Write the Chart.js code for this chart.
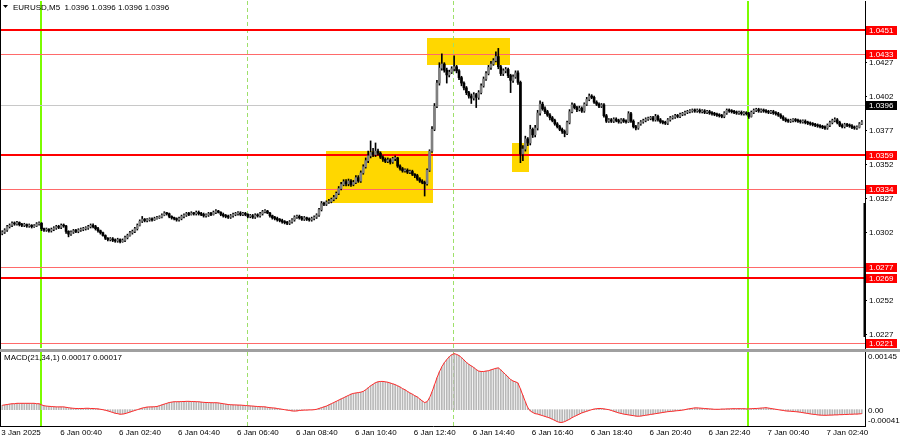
<!DOCTYPE html>
<html><head><meta charset="utf-8">
<script src="https://cdn.jsdelivr.net/npm/chart.js@4.4.1/dist/chart.umd.min.js"></script>
<style>
html,body{margin:0;padding:0;background:#fff;}
#wrap{position:relative;width:900px;height:441px;overflow:hidden;background:#fff;}
#c1{position:absolute;left:0;top:0;}
#c2{position:absolute;left:0;top:352px;}
#sep{position:absolute;left:0;top:349px;width:900px;height:3px;background:#a0a0a0;}
</style></head><body>
<div id="wrap"><canvas id="c1" width="900" height="349"></canvas><div id="sep"></div><canvas id="c2" width="900" height="89"></canvas></div>
<script>
// ---------- DATA (prices in pips above 1.0000, i.e. 302.5 = 1.03025) ----------
const titleText = 'EURUSD,M5  1.0396 1.0396 1.0396 1.0396';
const macdTitle = 'MACD(21,34,1) 0.00017 0.00017';
const firstOpen = 301.5;
const closes = [302.5,304,306.5,307.5,309,308.5,309.5,308,307.5,308,
307,307.5,306.5,307,308.5,309,305,304,304.5,303.5,
304.5,305.5,306.5,306,307.5,307,303,301,302.5,303.5,
303,304,304.5,305,305.5,306.5,307.5,306.5,305,303.5,
302,300,298,297,297.5,296.5,296,297,295.5,296.5,
298.5,300,302,303,305,307.5,310.5,312,311,311.5,
312,311.5,312.5,313,313.5,315,316.5,316,314,313,
312.5,311.5,312.5,314,315,316,315.5,316.5,316,317,
316,315.5,314.5,315,316,315.5,317,318,317,315.5,
314.5,314,313.5,314.5,315.5,316,316.5,315.5,316,315.5,
314,314.5,313.5,315,314.5,316,317.5,318,316.5,314.5,
313,312.5,311.5,311,310,309.5,309,310,311.5,313.5,
314,313,312,313,312,311.5,312.5,313.5,315,319,
323.5,323,324.5,325,326.5,328,331,334.5,337.5,339.5,
338,340,337.5,339,342.5,340,346,350.5,355,358.5,
361,359.5,362,360.5,357.5,356,354.5,355.5,354,356.5,
357,351,349,347.5,348,346.5,347,345,344,341.5,
340,339,338,348,362,378,395,412,423,426,
421.5,418,420,422.5,424,421,416,412,408.5,405,
402.5,401,403.5,401.5,405,410,415,419,423.5,426,
428.5,431.5,424,419,421,422,417.5,414,416.5,419.5,
412.5,360,363.5,371,368,378,374,379,390,396.5,
393,391,388.5,386.5,384.5,382,380,378,376.5,375,
383,391,396,394,392.5,393.5,391.5,396.5,400,402.5,
401.5,398,396.5,395,396,388,384,385,384,385.5,
384.5,383.5,385,384,383.5,389.5,384,380,379,382,
383.5,384.5,385.5,386,386.5,385,387.5,385,383.5,383,
382.5,385,386.5,387,388,387.5,389,389.5,390.5,391,
391.5,392,391.5,392,391,391.5,390.5,391,390,389.5,
389,388.5,388,387.5,390,392,391.5,391,390.5,390,
390.5,389.5,390,389.5,387.5,390.5,392,392.5,391.5,392,
391.5,391,390.5,391,390,389.5,388.5,387,385.5,384.5,
384,384.5,385,384.5,384,383.5,384,383,382.5,382,
381.5,381,380.5,380,379.5,379,381,383,384.5,385,
383,381,380,381.5,381,380.5,379.5,379,379.5,382,383.5];
const highs = [303.5,305,307.5,308.5,310,310,310.5,310,309,309,
308.5,308.5,308,308,309.5,310,309.5,305.5,305.5,305,
305.5,306.5,307.5,307.5,308.5,308.5,307.5,303.5,303.5,304.5,
304.5,305,305.5,306,306.5,307.5,308.5,308.5,307.5,306,
304,302.5,300.5,298.5,298.5,298.5,297.5,298,297.5,297.5,
299.5,301,303,304,306,308.5,311.5,314,312.5,312.5,
313,313,313.5,314,314.5,316,317.5,317,316.5,314.5,
313.5,313,313.5,315,316,317,317,317.5,317,318,
318,317,316.5,316,317,317,318,319,318.5,317.5,
316.5,315.5,315,315.5,316.5,317,317.5,317.5,317,317,
316,315.5,315.5,316,316,317,318.5,319,318.5,317,
315,314,313.5,312.5,312,311,310.5,311,312.5,314.5,
315,315,314,314,313.5,313,313.5,314.5,316,320,
325,324.5,325.5,326.5,327.5,329.5,332,336,339,341,
341,341.5,341,340.5,344,344,347.5,352,357,362,
369.5,364,368,363.5,361.5,358.5,357,357,356.5,357.5,
358.5,357.5,352,350,349,349,348,348,345.5,345,
342.5,341,340,349,363,380,397,414,427,433.5,
427,423,421.5,424,432,425,422,417,413,409.5,
406,404,405,404.5,406.5,411.5,416.5,420.5,425,428,
430,435,437.5,425,422.5,423.5,423,418.5,418,421,
421,413.5,366,373,372,381,379,381,392,399,
398,394.5,392,389.5,387.5,385.5,383,381,379,377.5,
384,392.5,397.5,397,395,395,394.5,397.5,401.5,404,
403.5,402.5,399,397.5,397,397,389,386,386,386.5,
386.5,385.5,386,386,385,391,390.5,385,381,383,
384.5,385.5,386.5,387,387.5,387.5,389,388.5,386,384.5,
384,386,387.5,388,389,389,390,390.5,391.5,392,
392.5,393,393,393,393,392.5,392.5,392,392,391,
390.5,390,389.5,389,391,393,393,392.5,392,391.5,
391.5,391.5,391,391,390.5,391.5,393,393.5,393.5,393,
393,392.5,392,392,392,391,390.5,389.5,388,386.5,
385.5,385.5,386,386,385.5,385,385,385,384,383.5,
383,382.5,382,381.5,381,380.5,382,384,385.5,386.5,
386,384,382,382.5,382.5,382,381.5,380.5,380.5,383,384.5];
const lows = [300.5,301.5,303,305.5,306.5,307.5,307.5,307,306.5,306.5,
306,306,305.5,306,306.5,307.5,303.5,303,303,302.5,
302.5,303.5,304.5,305,305,306,301.5,299,300,301.5,
302,302,303,303.5,304,304.5,305.5,305.5,304,302.5,
301,299.5,297,296,296,295.5,295,295,294.5,295,
295.5,297.5,299.5,301,302,304,307,309.5,310,310,
310.5,310.5,311,312,312.5,313,314.5,315,313,312,
311.5,310.5,310.5,311.5,313,314,314.5,315,315,315,
315,314.5,313.5,313.5,314,314.5,315,316,316.5,314.5,
313.5,313,312.5,312.5,313.5,314.5,315,314.5,314.5,314.5,
313,313,312.5,312.5,313.5,313.5,315,316.5,316,313.5,
312,311.5,310.5,310,309,308.5,308,308,309,310.5,
312.5,312,311,311,311,310.5,310.5,311.5,312.5,314,
318,322,322,323.5,324,325.5,327,330,333.5,336.5,
336.5,336.5,336,336.5,338,339,339,345,349.5,353.5,
357,358,358,359,356.5,354.5,353.5,353.5,352.5,353,
355,350,348,346.5,346.5,345.5,345.5,344,342.5,340.5,
339,338,329,337,347,361,377,394,410.5,421.5,
420,412,416.5,419,421,419.5,414.5,410,407,403.5,
401,397,399.5,394,400,404,409,414,418,422,
425,427.5,422.5,417.5,417.5,419.5,416,405,412.5,415.5,
411,353.5,355,362,366,366.5,372,372.5,377.5,388.5,
392,389.5,387.5,385,383.5,381,379,377,375,372.5,
374,382,390,393,391,391.5,390.5,390.5,395.5,399,
400.5,397,395.5,394,394,387,383,383,383,383,
383.5,382.5,382.5,383,382.5,383,383,379,377.5,378,
381,382.5,383.5,384.5,385,384,384,384,382.5,382,
381.5,381.5,384,385.5,386,386.5,386.5,388,388.5,389.5,
390,390.5,390.5,390.5,390,390,389.5,389.5,389,388.5,
388,387.5,387,386.5,386.5,389,390.5,390,389.5,389,
389,388.5,388.5,388.5,386,387,389.5,391,390.5,390.5,
390.5,390,389.5,389.5,389,388.5,387.5,386,384.5,383.5,
383,383,383.5,383.5,383,382.5,382.5,382,381.5,381,
380.5,380,379.5,379,378.5,378,378,380,382,383.5,
382,380,379,379,380,379.5,378.5,378,378,379,381.5];
// MACD(21,34,1) main/signal in units of 0.00001
const macdValues = [11,12,13,14,15,15,
16,16,16,16,16,16,16,16,15,15,
12,10,9,8.5,8,
7.5,7,7,7,7,6,
5,4,3.5,3,3,3,3,3.5,3.5,3,3,2.5,2,1,
0,-1.5,-3,
-5,-7,-9,-10,-11.5,-11,
-10,-8,-6,-4,-2,0,2,
4,5.5,6.5,7,7,7.5,8,10,
12,14,16,
18,19,20,20,20,20.5,20.5,21,21,20.5,20.5,20,20,
19,18.5,18,18,17.5,17.5,17.5,17,16,15,14,
13,12.5,12,12,11.5,11.5,11,10.5,
10,9.5,9,8.5,8,7.5,7.5,7,
6,5,4.5,4,3,2,1,
0,-1,-2,-3,-3.5,-3,-2,
-1.5,-1,-1,-0.5,-0.5,0,1,
3,5,7,9,12,15,
18,21,24,27,30,33,36,39,41,
42,43,44,46,
50,55,60,64,68,70,
71,71,70,69,
67,65,63,60,57,
53,50,46,42,39,35,32,
27,22,18,
20,30,45,62,80,95,
108,118,126,133,138,141,139,
136,131,125,119,114,
110,106,101,97,
96,96,97,98,100,
102,104,105,
100,94,88,82,
76,72,70,67,
52,36,20,5,
-3,-7,-10,-11,
-13,-15,-17,-19,-21,
-24,-27,-30,-32,-32,
-30,-27,-24,-20,-17,-14,-11,
-8,-6,-4,-2,0,1.5,2.5,3,
3,2,1,0,
-2,-4,-6,-8,-9.5,-11,-12,-13,-14,
-15,-16,-16.5,-16,
-15,-14,-13,-12,-11,-10,-9,-8,-7,-6,
-5,-4.5,-4,-3,-2.5,-2,-1,0,
1.5,2.5,3.5,4.5,4.5,
4,3.5,3,2.5,2,1.5,1,1,
1,1.5,1.5,2,2,2.5,2.5,2.5,2.5,2.5,2.5,2,
2,2.5,3,3,3.5,4,4.5,5,
4,3,2,1,0,
-1,-2,-3,-3.5,-4,-4.5,-5,-5.5,
-6.5,-7.5,-8.5,-9.5,-10.5,-11.5,-12,-13,-13.5,-14,-14,
-14,-13.5,-13.5,-13,-13,-12.5,-12.5,-12,-12,-11.5,-11.5,-11,-11,-10.5,-10];
const xTickLabels = ['3 Jan 2025','6 Jan 00:40','6 Jan 02:40','6 Jan 04:40','6 Jan 06:40','6 Jan 08:40','6 Jan 10:40','6 Jan 12:40','6 Jan 14:40','6 Jan 16:40','6 Jan 18:40','6 Jan 20:40','6 Jan 22:40','7 Jan 00:40','7 Jan 02:40'];
const xTickBars = [0,24,48,72,96,120,144,168,192,216,240,264,288,312,336];
const priceTicks = [1.0427,1.0402,1.0377,1.0352,1.0327,1.0302,1.0252,1.0227];
const levelPrices = [1.0451,1.0433,1.0359,1.0334,1.0277,1.0269,1.0221];
const currentPrice = 1.0396;
const dayBars = [16,304];        // 6 Jan 00:00, 7 Jan 00:00
const sessionBars = [100,184];   // 6 Jan 07:00, 6 Jan 14:00
const zoneFromBar = [131.8,172.9,207.7];
const zoneToBar = [175.4,206.7,214.6];
const zoneHigh = [1.03621,1.04449,1.03682];
const zoneLow = [1.03239,1.04253,1.03469];
const macdMax = 0.00145, macdMin = -0.00041;

// ---------- STYLE / LAYOUT ----------
const FONT = '"Liberation Sans", Arial, sans-serif';
Chart.defaults.font.family = FONT;
Chart.defaults.font.size = 8;
Chart.defaults.color = '#000';
const thickLevels = [1.0451,1.0359,1.0269];
const X_MIN = -0.5, X_MAX = 351.3;
const PRICE_MIN = 1.021733, PRICE_MAX = 1.047231;

const P = v => 1 + v / 10000;
const opens = closes.map((c, i) => i === 0 ? firstOpen : closes[i - 1]);
const wickData = closes.map((c, i) => ({x: i, y: [P(lows[i]), P(highs[i])]}));
const bodyData = closes.map((c, i) => ({x: i, y: [P(opens[i]), P(c)]}));
const bodyColors = closes.map((c, i) => c >= opens[i] ? '#808080' : '#000000');
const macdData = macdValues.map((v, i) => ({x: i, y: v / 100000}));

function drawVLines(chart) {
  const {ctx, chartArea: a, scales: {x}} = chart;
  ctx.save();
  ctx.beginPath(); ctx.rect(a.left, a.top, a.right - a.left, a.bottom - a.top); ctx.clip();
  ctx.strokeStyle = '#9ee06a'; ctx.lineWidth = 1; ctx.setLineDash([4, 3]);
  sessionBars.forEach(b => {
    const px = Math.round(x.getPixelForValue(b)) - 0.5;
    ctx.beginPath(); ctx.moveTo(px, a.top); ctx.lineTo(px, a.bottom); ctx.stroke();
  });
  ctx.setLineDash([]);
  ctx.strokeStyle = '#7cfc00'; ctx.lineWidth = 2;
  dayBars.forEach(b => {
    const px = Math.round(x.getPixelForValue(b)) - 1;
    ctx.beginPath(); ctx.moveTo(px, a.top); ctx.lineTo(px, a.bottom); ctx.stroke();
  });
  ctx.restore();
}

const mainDecor = {
  id: 'mainDecor',
  beforeDatasetsDraw(chart) {
    const {ctx, chartArea: a, scales: {x, y}} = chart;
    ctx.save();
    ctx.beginPath(); ctx.rect(a.left, a.top, a.right - a.left, a.bottom - a.top); ctx.clip();
    ctx.fillStyle = '#ffd700';
    zoneFromBar.forEach((f, k) => {
      const x0 = Math.round(x.getPixelForValue(f)), x1 = Math.round(x.getPixelForValue(zoneToBar[k]));
      const y0 = Math.round(y.getPixelForValue(zoneHigh[k])), y1 = Math.round(y.getPixelForValue(zoneLow[k]));
      ctx.fillRect(x0, y0, x1 - x0, y1 - y0);
    });
    ctx.restore();
    drawVLines(chart);
    ctx.save();
    ctx.beginPath(); ctx.rect(a.left, a.top, a.right - a.left, a.bottom - a.top); ctx.clip();
    ctx.strokeStyle = '#c8c8c8'; ctx.lineWidth = 1;
    let py = Math.round(y.getPixelForValue(currentPrice)) + 0.5;
    ctx.beginPath(); ctx.moveTo(a.left, py); ctx.lineTo(a.right, py); ctx.stroke();
    levelPrices.forEach(v => {
      const thick = thickLevels.includes(v);
      const p = y.getPixelForValue(v);
      ctx.strokeStyle = thick ? '#ff0000' : '#ff6a6a';
      ctx.lineWidth = thick ? 2 : 1;
      const yy = thick ? Math.round(p) : Math.round(p) + 0.5;
      ctx.beginPath(); ctx.moveTo(a.left, yy); ctx.lineTo(a.right, yy); ctx.stroke();
    });
    ctx.restore();
  },
  afterDraw(chart) {
    const {ctx, chartArea: a, scales: {y}} = chart;
    ctx.save();
    ctx.font = '8px ' + FONT;
    ctx.textBaseline = 'middle';
    ctx.textAlign = 'left';
    ctx.fillStyle = '#000';
    ctx.fillRect(a.right - 1.5, 203, 2.5, 134);
    const boxes = levelPrices.map(v => [v, '#ff0000']).concat([[currentPrice, '#000000']]);
    boxes.forEach(([v, col]) => {
      const p = Math.round(y.getPixelForValue(v));
      ctx.fillStyle = col;
      ctx.fillRect(a.right + 1, p - 4, 31, 9);
      ctx.fillStyle = '#fff';
      ctx.fillText(v.toFixed(4), a.right + 4, p + 0.5);
    });
    ctx.fillStyle = '#000';
    ctx.fillRect(0, 0, 1, chart.height);
    ctx.beginPath(); ctx.moveTo(3, 5); ctx.lineTo(8, 5); ctx.lineTo(5.5, 8); ctx.closePath(); ctx.fill();
    ctx.textBaseline = 'alphabetic';
    ctx.fillText(titleText, 13, 10);
    ctx.restore();
  }
};

new Chart(document.getElementById('c1'), {
  type: 'bar',
  data: {datasets: [
    {label: 'body', data: bodyData, backgroundColor: bodyColors, barThickness: 2, grouped: false, order: 1, minBarLength: 1},
    {label: 'wick', data: wickData, backgroundColor: '#000', barThickness: 1, grouped: false, order: 2}
  ]},
  options: {
    responsive: false, animation: false, events: [],
    layout: {padding: {left: 1, top: 1, right: 0, bottom: 1}},
    plugins: {legend: {display: false}, tooltip: {enabled: false}},
    scales: {
      x: {type: 'linear', min: X_MIN, max: X_MAX, offset: false, display: false},
      y: {type: 'linear', position: 'right', min: PRICE_MIN, max: PRICE_MAX,
        afterBuildTicks: s => { s.ticks = priceTicks.map(v => ({value: v})); },
        afterFit: s => { s.width = 35; s.paddingTop = 0; s.paddingBottom = 0; },
        ticks: {callback: v => Number(v).toFixed(4), padding: 2, color: '#000', font: {size: 8}},
        grid: {display: true, drawOnChartArea: false, drawTicks: true, tickLength: 2, color: '#000'},
        border: {display: true, color: '#000', width: 1}
      }
    }
  },
  plugins: [mainDecor]
});

const macdDecor = {
  id: 'macdDecor',
  beforeDatasetsDraw(chart) { drawVLines(chart); },
  afterDraw(chart) {
    const {ctx, chartArea: a, scales: {y}} = chart;
    ctx.save();
    ctx.fillStyle = '#000';
    ctx.fillRect(0, 0, 1, a.bottom + 1);
    ctx.font = '8px ' + FONT;
    ctx.textBaseline = 'middle';
    ctx.textAlign = 'left';
    ctx.fillText(macdTitle, 4, a.top + 6);
    ctx.fillText(macdMax.toFixed(5), a.right + 3, a.top + 5);
    ctx.fillText('0.00', a.right + 3, y.getPixelForValue(0) + 1);
    ctx.fillText(macdMin.toFixed(5), a.right + 3, a.bottom - 5);
    ctx.restore();
  }
};

new Chart(document.getElementById('c2'), {
  type: 'bar',
  data: {datasets: [
    {type: 'line', label: 'signal', data: macdData, borderColor: '#ff2a2a', borderWidth: 1, pointRadius: 0, tension: 0, order: 0},
    {label: 'macd', data: macdData, backgroundColor: '#b8b8b8', barThickness: 1, grouped: false, order: 1}
  ]},
  options: {
    responsive: false, animation: false, events: [],
    layout: {padding: {left: 1, top: 0, right: 0, bottom: 0}},
    plugins: {legend: {display: false}, tooltip: {enabled: false}},
    scales: {
      x: {type: 'linear', min: X_MIN, max: X_MAX, offset: false, position: 'bottom',
        afterBuildTicks: s => { s.ticks = xTickBars.map(v => ({value: v})); },
        afterFit: s => { s.height = 15; s.paddingLeft = 0; s.paddingRight = 0; },
        ticks: {callback: (v, i) => xTickLabels[i], align: 'start', autoSkip: false, maxRotation: 0, minRotation: 0, padding: 2, labelOffset: -1, color: '#000', font: {size: 8}},
        grid: {display: false, drawTicks: false, offset: false},
        border: {display: true, color: '#000', width: 1}
      },
      y: {type: 'linear', position: 'right', min: macdMin, max: macdMax,
        afterFit: s => { s.width = 35; s.paddingTop = 0; s.paddingBottom = 0; },
        ticks: {display: false},
        grid: {display: false, drawTicks: false},
        border: {display: true, color: '#000', width: 1}
      }
    }
  },
  plugins: [macdDecor]
});
</script>
</body></html>
